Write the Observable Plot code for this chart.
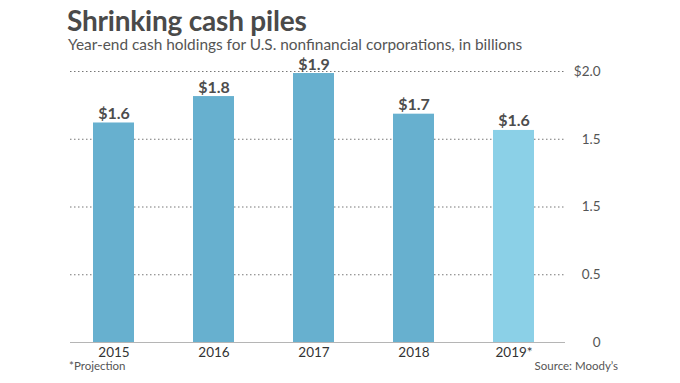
<!DOCTYPE html>
<html><head><meta charset="utf-8">
<script src="https://cdn.jsdelivr.net/npm/d3@7"></script>
<script src="https://cdn.jsdelivr.net/npm/@observablehq/plot@0.6"></script>
<style>
html,body{margin:0;padding:0;background:#fff;}
body{width:680px;height:383px;overflow:hidden;font-family:Lato,"Open Sans",sans-serif;position:relative;}
#title{position:absolute;left:67px;top:3px;font-size:28px;font-weight:700;color:#4a4a4a;letter-spacing:-0.2px;line-height:34px;white-space:nowrap;}
#subtitle{position:absolute;left:68px;top:35px;font-size:15.4px;color:#555;line-height:19px;white-space:nowrap;}
#chart{position:absolute;left:0;top:58px;}
#chart svg{overflow:visible;}
#note{position:absolute;left:69px;top:358px;font-size:11.5px;color:#555;line-height:16px;}
#source{position:absolute;right:62px;top:358px;font-size:11.5px;color:#555;line-height:16px;}
</style></head>
<body>
<div id="title">Shrinking cash piles</div>
<div id="subtitle">Year-end cash holdings for U.S. nonfinancial corporations, in billions</div>
<div id="chart"></div>
<div id="note">*Projection</div>
<div id="source">Source: Moody’s</div>
<script>
const years = ["2015", "2016", "2017", "2018", "2019*"];
const values = [1.62, 1.815, 1.985, 1.685, 1.565];
const valueLabels = ["$1.6", "$1.8", "$1.9", "$1.7", "$1.6"];
const projected = [false, false, false, false, true];
const tickValues = [0, 0.5, 1, 1.5, 2];
const tickLabels = ["0", "0.5", "1.5", "1.5", "$2.0"];
const gridValues = [0.5, 1, 1.5, 2];

const data = years.map((y, i) => ({year: y, value: values[i], label: valueLabels[i], proj: projected[i]}));

const chart = Plot.plot({
  width: 680,
  height: 302,
  marginLeft: 70,
  marginRight: 115,
  marginTop: 13,
  marginBottom: 18,
  style: {fontFamily: "Lato, 'Open Sans', sans-serif", background: "transparent", overflow: "visible"},
  x: {domain: years, paddingInner: 0.59, paddingOuter: 0.27, align: 0.43, label: null},
  y: {domain: [0, 2], label: null},
  marks: [
    Plot.ruleY(gridValues, {stroke: "#777", strokeWidth: 1, strokeDasharray: "1.5,2.5"}),
    Plot.ruleY([0], {stroke: "#b5b5b5", strokeWidth: 1.2}),
    Plot.barY(data, {x: "year", y: "value", fill: d => d.proj ? "#8bd0e7" : "#67b0cf"}),
    Plot.text(data, {x: "year", y: "value", text: "label", dy: -4, lineAnchor: "bottom", fontSize: 16, fontWeight: 700, fill: "#4d4d4d"}),
    Plot.axisX({tickSize: 0, tickPadding: 5, fontSize: 13.5, color: "#333"}),
    Plot.axisY({anchor: "right", ticks: tickValues, tickFormat: (d) => tickLabels[tickValues.indexOf(d)], tickSize: 0, tickPadding: 35, textAnchor: "end", fontSize: 13.5, color: "#555"})
  ]
});
document.getElementById("chart").appendChild(chart);
</script>
</body></html>
